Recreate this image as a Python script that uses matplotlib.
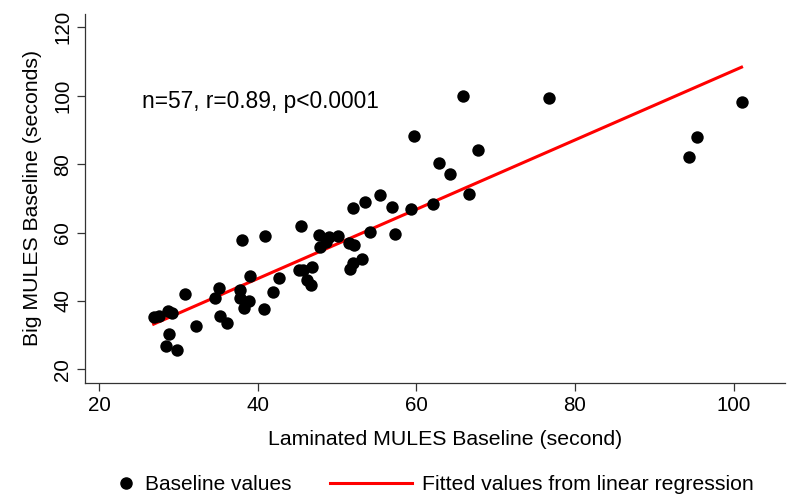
import numpy as np
import matplotlib
matplotlib.use('Agg')
import matplotlib.pyplot as plt
from matplotlib.lines import Line2D

plt.rcParams['font.family'] = ['Liberation Sans', 'DejaVu Sans']

# ------------------------Data--------------------------------------------------
laminated = [38.04, 40.87, 38.98, 42.68, 30.85, 35.14, 37.79, 34.64, 37.72, 38.93,
             41.96, 38.22, 40.74, 28.67, 29.17, 26.86, 27.50, 35.23, 36.08, 32.20,
             28.76, 28.42, 29.77, 45.45, 47.76, 48.95, 50.16, 48.57, 47.89, 51.47,
             52.18, 54.12, 57.31, 55.38, 53.49, 51.97, 56.90, 59.37, 62.15, 62.86,
             64.21, 53.15, 52.05, 51.60, 46.80, 45.24, 45.67, 46.17, 46.71, 65.93,
             76.71, 67.82, 66.65, 101.01, 95.42, 94.37, 59.71]
big = [57.72, 59.06, 47.19, 46.61, 42.02, 43.68, 43.19, 40.76, 40.85, 40.06,
       42.51, 37.84, 37.72, 37.05, 36.55, 35.38, 35.58, 35.67, 33.45, 32.66,
       30.41, 26.90, 25.73, 61.99, 59.27, 58.77, 58.89, 57.31, 55.85, 57.02,
       56.43, 60.06, 59.47, 71.05, 69.01, 67.25, 67.46, 66.96, 68.33, 80.41,
       77.02, 52.34, 50.99, 49.33, 49.91, 48.95, 48.95, 46.02, 44.74, 100.0,
       99.24, 84.04, 71.26, 98.16, 87.84, 81.99, 88.22]
stats_text = 'n=57, r=0.89, p<0.0001'
# ------------------------------------------------------------------------------

x = np.array(laminated)
y = np.array(big)
b, a = np.polyfit(x, y, 1)
xf = np.array([x.min(), x.max()])
yf = a + b * xf

fig = plt.figure(figsize=(7.95, 5.0), dpi=100)
ax = fig.add_axes([0.1075, 0.235, 0.88, 0.737])

ax.scatter(x, y, s=80, color='black', zorder=3, linewidths=0)
ax.plot(xf, yf, color='red', lw=2.2, zorder=2)
ax.text(25.4, 98.4, stats_text, fontsize=16.4, va='center', ha='left')

ax.set_xlim(18.26, 106.5)
ax.set_ylim(16.14, 123.9)
ax.set_xticks([20, 40, 60, 80, 100])
ax.set_yticks([20, 40, 60, 80, 100, 120])
ax.tick_params(axis='both', direction='out', length=6, width=0.9, labelsize=14.8,
               color='#333333')
plt.setp(ax.get_yticklabels(), rotation=90, va='center')
for side in ['top', 'right']:
    ax.spines[side].set_visible(False)
for side in ['left', 'bottom']:
    ax.spines[side].set_linewidth(0.9)
    ax.spines[side].set_color('#333333')

ax.set_xlabel('Laminated MULES Baseline (second)', fontsize=15.3)
ax.set_ylabel('Big MULES Baseline (seconds)', fontsize=15.3, labelpad=8)
ax.xaxis.set_label_coords(0.514, -0.13)

# two legends so the marker and the line keep their own spacing
h_pt = Line2D([], [], marker='o', color='black', linestyle='none', markersize=8)
h_ln = Line2D([], [], color='red', lw=2.2)
leg1 = fig.legend([h_pt], ['Baseline values'], loc='center left',
                  bbox_to_anchor=(0.1454, 0.03), frameon=False, fontsize=15,
                  handlelength=1.0, handletextpad=0.4, borderpad=0, borderaxespad=0)
leg2 = fig.legend([h_ln], ['Fitted values from linear regression'], loc='center left',
                  bbox_to_anchor=(0.415, 0.03), frameon=False, fontsize=15.3,
                  handlelength=3.85, handletextpad=0.48, borderpad=0, borderaxespad=0)

plt.savefig('out.png', dpi=100)
